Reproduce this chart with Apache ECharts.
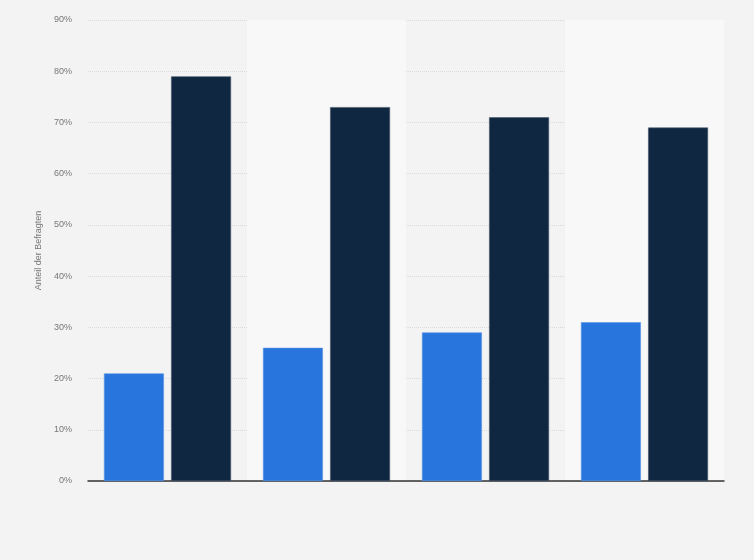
<!DOCTYPE html>
<html><head><meta charset="utf-8">
<script src="https://cdn.jsdelivr.net/npm/echarts@6/dist/echarts.min.js"></script>
<style>html,body{margin:0;padding:0;background:#f3f3f3}#c{width:754px;height:560px}</style>
</head><body><div id="c"></div>
<script>
var categories = ['Gruppe 1', 'Gruppe 2', 'Gruppe 3', 'Gruppe 4'];
var seriesA = [21, 26, 29, 31];
var seriesB = [79, 73, 71, 69];
var yTicks = [0, 10, 20, 30, 40, 50, 60, 70, 80, 90];

var chart = echarts.init(document.getElementById('c'));
chart.setOption({
  backgroundColor: '#f3f3f3',
  animation: false,
  grid: {left: 88, right: 30, top: 20, bottom: 79},
  xAxis: {
    type: 'category', data: categories,
    axisLine: {lineStyle: {color: '#333', width: 1.5}},
    axisTick: {show: false},
    axisLabel: {show: false},
    splitArea: {show: true, areaStyle: {color: ['rgba(0,0,0,0)', '#f8f8f8']}}
  },
  yAxis: {
    type: 'value', min: 0, max: 90, interval: 10,
    name: 'Anteil der Befragten', nameLocation: 'middle', nameGap: 44,
    nameTextStyle: {color: '#777', fontSize: 9, fontFamily: 'Arial, Liberation Sans'},
    axisLine: {show: false}, axisTick: {show: false},
    axisLabel: {color: '#777', fontSize: 9, fontFamily: 'Arial, Liberation Sans', margin: 16,
      formatter: function (v) { return yTicks.indexOf(v) >= 0 ? v + '%' : ''; }},
    splitLine: {lineStyle: {color: '#dadada', type: [1, 1]}}
  },
  series: [
    {type: 'bar', data: seriesA, barWidth: '37.7%', barGap: '12%',
     itemStyle: {color: '#2876dd', borderColor: '#5a95e6', borderWidth: 0.6}},
    {type: 'bar', data: seriesB, barWidth: '37.7%', barGap: '12%',
     itemStyle: {color: '#0f2740', borderColor: '#44566a', borderWidth: 0.6}}
  ]
});
</script></body></html>
